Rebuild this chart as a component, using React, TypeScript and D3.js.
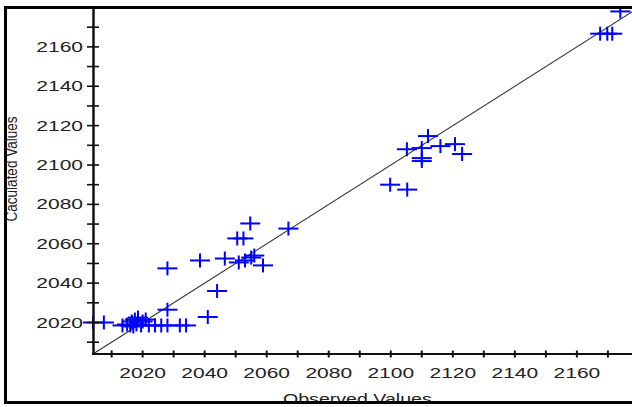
import React from "react";
import * as d3 from "d3";

const observed = [
  2004, 2007.5,
  2013.5, 2015, 2016, 2016.5, 2017, 2017.5, 2018, 2018.5, 2019.5, 2020, 2021, 2022, 2024, 2026, 2028, 2032, 2034,
  2028, 2041, 2044, 2028,
  2038.5, 2046.5, 2050.5, 2052.5, 2054.7, 2051, 2053, 2055, 2056, 2058.8, 2067,
  2099.8, 2105.3, 2105.2, 2110, 2112, 2116, 2120.7, 2123, 2110, 2110,
  2167.5, 2169.8, 2171.4, 2174,
];
const calculated = [
  2020, 2020,
  2018.5, 2019, 2018.5, 2020.5, 2018, 2021.5, 2019, 2022.5, 2018.5, 2020.5, 2021.5, 2018.5, 2018.5, 2018.5, 2018.5, 2018.5, 2018.5,
  2026.5, 2022.8, 2036, 2047.5,
  2051.5, 2052.5, 2062.7, 2062.7, 2070.3, 2050.5, 2051.5, 2053, 2054, 2049, 2067.7,
  2090, 2087.5, 2108, 2108.6, 2114.7, 2109.6, 2110.6, 2105.6, 2102, 2103.5,
  2166.7, 2166.7, 2166.7, 2178,
];
const xTickValues = [2010, 2020, 2030, 2040, 2050, 2060, 2070, 2080, 2090, 2100, 2110, 2120, 2130, 2140, 2150, 2160, 2170];
const xTickLabels = [2020, 2040, 2060, 2080, 2100, 2120, 2140, 2160];
const yTickValues = [2010, 2020, 2030, 2040, 2050, 2060, 2070, 2080, 2090, 2100, 2110, 2120, 2130, 2140, 2150, 2160, 2170];
const yTickLabels = [2020, 2040, 2060, 2080, 2100, 2120, 2140, 2160];
const xTitle = "Observed Values";
const yTitle = "Caculated Values";
const fitLine = [2004, 2180];

export default function App() {
  const x = d3.scaleLinear().domain([2004, 2060]).range([93, 266.7]);
  const y = d3.scaleLinear().domain([2004, 2020]).range([354, 322.5]);
  const font = "'Liberation Sans', Arial, sans-serif";
  const line = d3.line<number>().x((d) => x(d)).y((d) => y(d));
  return (
    <svg width={632} height={407} style={{ position: "absolute", left: 0, top: 0, background: "#fff" }}>
      <defs>
        <clipPath id="plotclip">
          <rect x={0} y={8} width={632} height={400} />
        </clipPath>
      </defs>
      <rect x={0} y={0} width={632} height={407} fill="#fff" />
      <g clipPath="url(#plotclip)">
        <path d={line(fitLine) || ""} stroke="#333" strokeWidth={1.1} fill="none" />
        {observed.map((o, i) => {
          const cx = x(o);
          const cy = y(calculated[i]);
          return (
            <g key={i} stroke="#0000ff" strokeWidth={2}>
              <line x1={cx - 10} x2={cx + 10} y1={cy} y2={cy} />
              <line x1={cx} x2={cx} y1={cy - 7} y2={cy + 7} />
            </g>
          );
        })}
      </g>
      <line x1={93.5} x2={93.5} y1={7} y2={355} stroke="#111" strokeWidth={2.5} />
      <line x1={92} x2={640} y1={354} y2={354} stroke="#111" strokeWidth={2} />
      {yTickValues.map((v) => (
        <line key={"yt" + v} x1={87} x2={99} y1={y(v)} y2={y(v)} stroke="#111" strokeWidth={1.6} />
      ))}
      {xTickValues.map((v) => (
        <line key={"xt" + v} x1={x(v)} x2={x(v)} y1={350.5} y2={357.5} stroke="#111" strokeWidth={2} />
      ))}
      {yTickLabels.map((v) => (
        <text
          key={"yl" + v}
          transform={`translate(83,${y(v) + 5}) scale(1.5,1)`}
          textAnchor="end"
          fontFamily={font}
          fontSize={14}
          fill="#222"
        >
          {v}
        </text>
      ))}
      {xTickLabels.map((v) => (
        <text
          key={"xl" + v}
          transform={`translate(${x(v)},378) scale(1.5,1)`}
          textAnchor="middle"
          fontFamily={font}
          fontSize={14}
          fill="#222"
        >
          {v}
        </text>
      ))}
      <text
        transform={`translate(283,404) scale(1.4,1)`}
        textAnchor="start"
        fontFamily={font}
        fontSize={14}
        fill="#222"
      >
        {xTitle}
      </text>
      <text
        transform={`translate(17,169) scale(1.2,1) rotate(-90)`}
        textAnchor="middle"
        fontFamily={font}
        fontSize={13.5}
        fill="#222"
      >
        {yTitle}
      </text>
      <line x1={4} x2={640} y1={7.5} y2={7.5} stroke="#000" strokeWidth={3} />
      <line x1={5.5} x2={5.5} y1={6} y2={404} stroke="#000" strokeWidth={3} />
      <line x1={4} x2={640} y1={402.5} y2={402.5} stroke="#000" strokeWidth={3} />
    </svg>
  );
}
